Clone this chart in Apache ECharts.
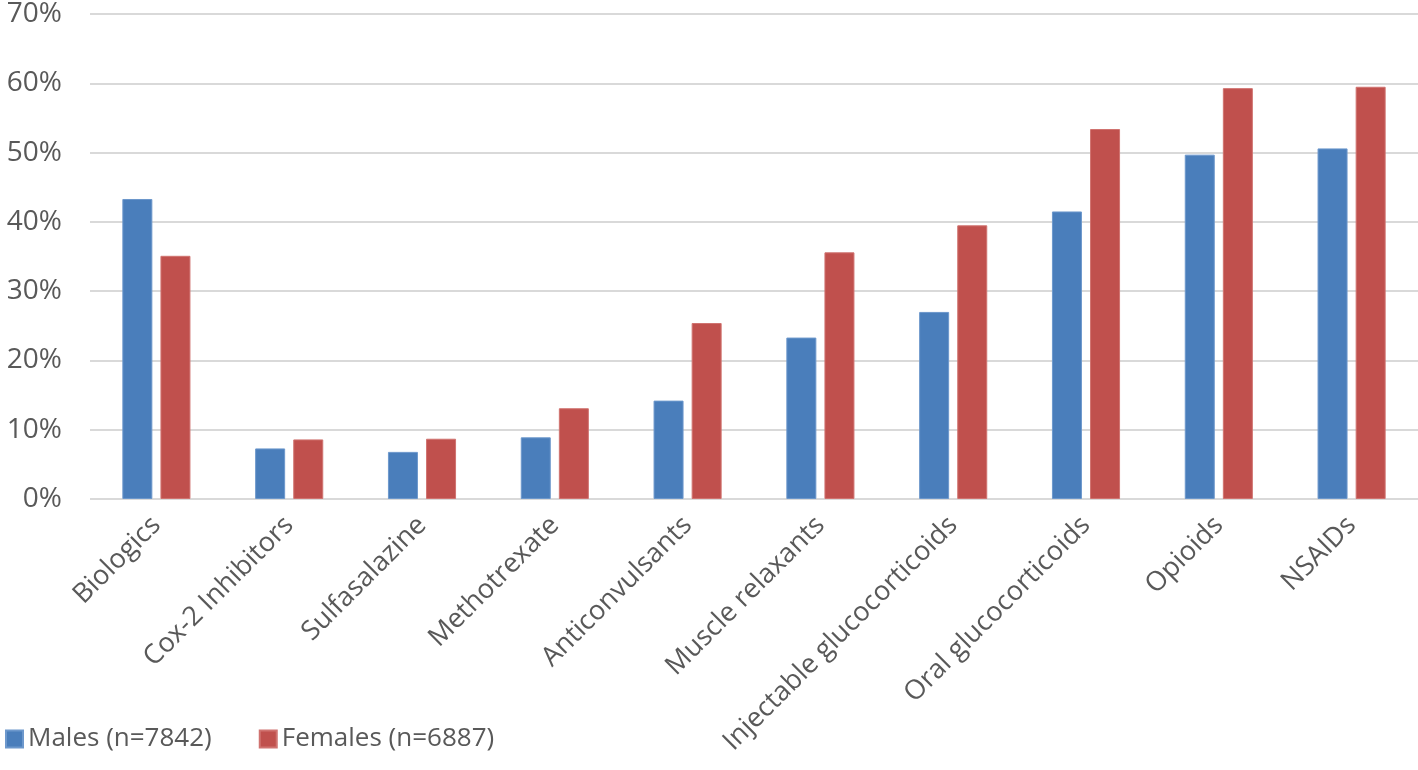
<!DOCTYPE html>
<html><head><meta charset="utf-8">
<script src="https://cdn.jsdelivr.net/npm/echarts@6/dist/echarts.min.js"></script>
<style>html,body{margin:0;padding:0;background:#fff}#c{width:1418px;height:770px}</style>
</head><body><div id="c"></div>
<script>
const categories = ["Biologics","Cox-2 Inhibitors","Sulfasalazine","Methotrexate","Anticonvulsants","Muscle relaxants","Injectable glucocorticoids","Oral glucocorticoids","Opioids","NSAIDs"];
const males = [43.3, 7.3, 6.8, 8.9, 14.2, 23.3, 27.0, 41.5, 49.7, 50.6];
const females = [35.1, 8.6, 8.7, 13.1, 25.4, 35.6, 39.5, 53.4, 59.3, 59.5];
const seriesNames = ["Males (n=7842)", "Females (n=6887)"];
const yTicks = [0, 10, 20, 30, 40, 50, 60, 70];

const font = "Open Sans, Liberation Sans, sans-serif";
const chart = echarts.init(document.getElementById('c'));
chart.setOption({
  animation:false,
  grid:{left:90, right:0, top:9, bottom:271, containLabel:false},
  legend:{left:0, bottom:13, itemWidth:17, itemHeight:17, itemGap:47, icon:'rect',
    textStyle:{fontSize:26, color:'#595959', fontFamily:font}, data:seriesNames},
  xAxis:{type:'category', data:categories,
    axisLine:{show:false}, axisTick:{show:false},
    axisLabel:{rotate:45, fontSize:27, color:'#595959', fontFamily:font, interval:0, margin:22}},
  yAxis:{type:'value', min:yTicks[0], max:yTicks[yTicks.length-1], interval:10,
    axisLabel:{formatter:function(v){return v+'%';}, fontSize:28, color:'#595959', fontFamily:font, margin:28},
    splitLine:{lineStyle:{color:'#d9d9d9', width:2}},
    axisLine:{show:false}, axisTick:{show:false}},
  series:[
    {name:seriesNames[0], type:'bar', data:males, barWidth:30, barGap:'27%',
      itemStyle:{color:'#4a7ebb', borderColor:'#6d98cc', borderWidth:1}},
    {name:seriesNames[1], type:'bar', data:females, barWidth:30,
      itemStyle:{color:'#c0504d', borderColor:'#d07370', borderWidth:1}}
  ]
});
</script></body></html>
